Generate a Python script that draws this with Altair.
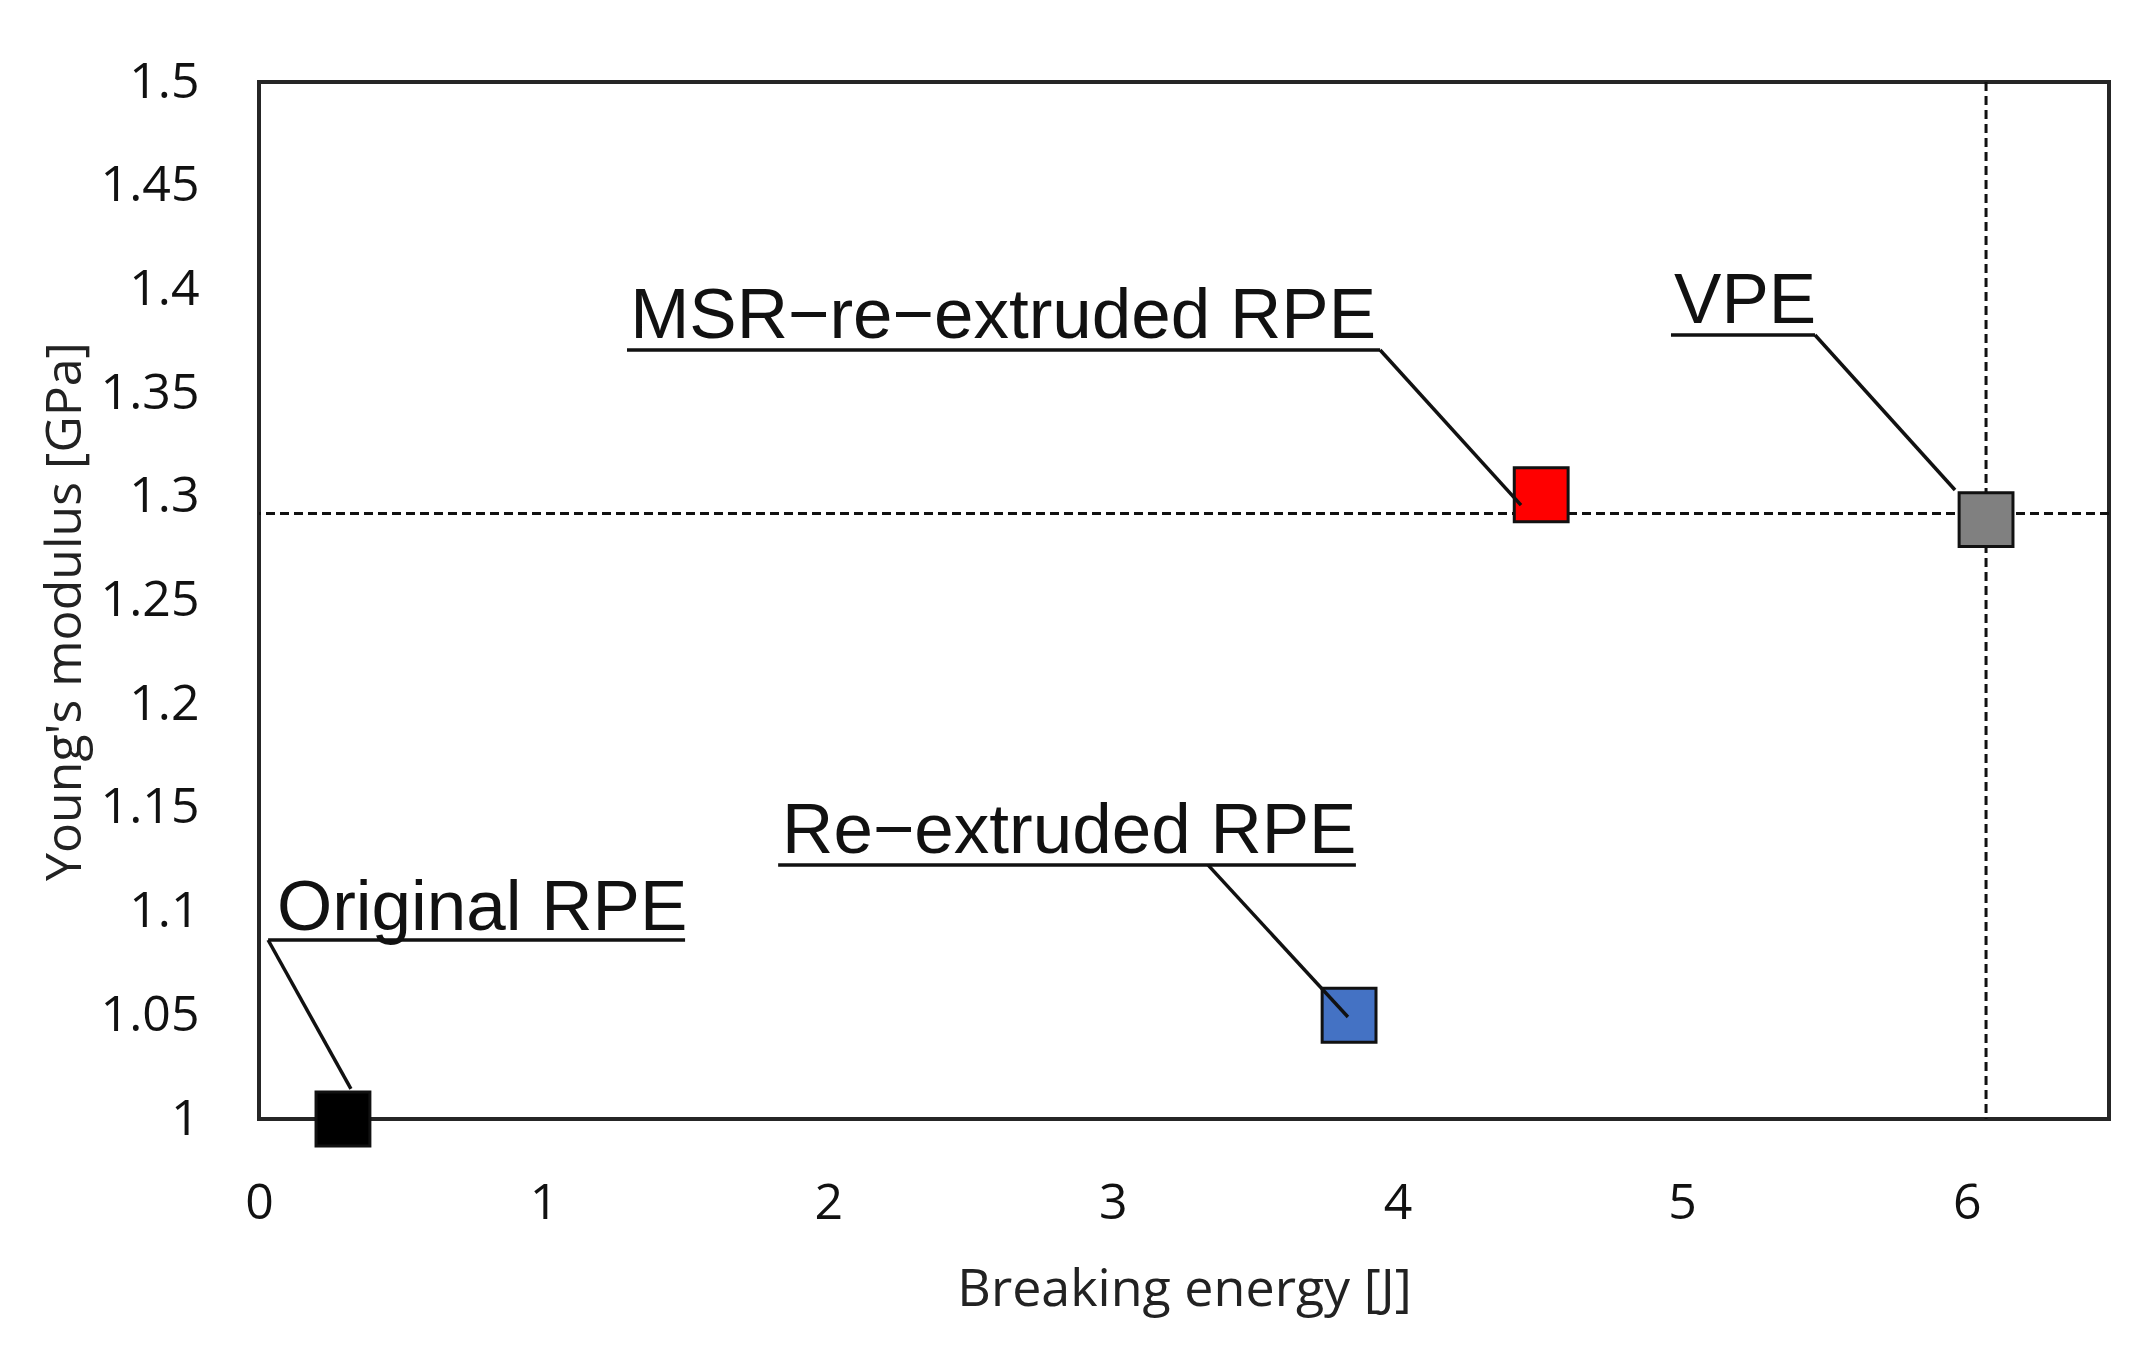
import altair as alt
import pandas as pd

# ---- data ----
names = ["Original RPE", "Re\u2212extruded RPE", "MSR\u2212re\u2212extruded RPE", "VPE"]
energy = [0.295, 3.83, 4.505, 6.068]          # Breaking energy [J]
modulus = [1.000, 1.050, 1.301, 1.289]        # Young's modulus [GPa]
colors = ["#000000", "#4472C4", "#FF0000", "#808080"]

# annotation anchors (data units)
label_x = [0.063, 1.838, 1.304, 4.972]
label_y = [1.0911, 1.1283, 1.3766, 1.3838]
underline_x0 = [0.032, 1.824, 1.293, 4.961]
underline_x1 = [1.497, 3.854, 3.939, 5.467]
underline_y = [1.0863, 1.1225, 1.3708, 1.378]
leader_x0 = [0.032, 3.334, 3.939, 5.467]
leader_x1 = [0.323, 3.826, 4.434, 5.959]
leader_y1 = [1.0145, 1.0492, 1.296, 1.3033]

ref_hline = [1.292]
ref_vline = [6.068]

x_ticks = [0, 1, 2, 3, 4, 5, 6]
y_ticks = [1.0, 1.05, 1.1, 1.15, 1.2, 1.25, 1.3, 1.35, 1.4, 1.45, 1.5]

# ---- tables ----
pts = pd.DataFrame({"name": names, "energy": energy, "modulus": modulus})
labels = pd.DataFrame({"name": names, "x": label_x, "y": label_y})
segs = pd.DataFrame({
    "x": underline_x0 + leader_x0,
    "x2": underline_x1 + leader_x1,
    "y": underline_y + underline_y,
    "y2": underline_y + leader_y1,
})
hl = pd.DataFrame({"v": ref_hline})
vl = pd.DataFrame({"v": ref_vline})

AXIS_FONT = "Open Sans"
xscale = alt.Scale(domain=[0, 6.5], nice=False, zero=False)
yscale = alt.Scale(domain=[1.0, 1.5], nice=False, zero=False)

base_x = alt.X(
    "energy:Q", scale=xscale,
    axis=alt.Axis(
        title="Breaking energy [J]", values=x_ticks, format="~g",
        grid=False, ticks=False, tickSize=0, domain=False, labelFlush=False,
        labelFont=AXIS_FONT, labelFontSize=50, labelColor="#111111",
        labelBaseline="alphabetic", labelPadding=99,
        titleFont=AXIS_FONT, titleFontSize=52, titleFontWeight="normal",
        titleColor="#222222", titleBaseline="alphabetic", titleY=186,
    ),
)
base_y = alt.Y(
    "modulus:Q", scale=yscale,
    axis=alt.Axis(
        title="Young's modulus [GPa]", values=y_ticks, format="~g",
        grid=False, ticks=False, tickSize=0, domain=False, labelFlush=False,
        labelFont=AXIS_FONT, labelFontSize=50, labelColor="#111111",
        labelPadding=60,
        titleFont=AXIS_FONT, titleFontSize=50, titleFontWeight="normal",
        titleColor="#222222", titleBaseline="alphabetic",
        titleX=-179, titleY=529,
    ),
)

points = alt.Chart(pts).mark_square(
    size=2900, filled=True, opacity=1, stroke="#111111", strokeWidth=3
).encode(
    x=base_x, y=base_y,
    color=alt.Color("name:N", scale=alt.Scale(domain=names, range=colors), legend=None),
)

hrule = alt.Chart(hl).mark_rule(
    color="#111111", strokeWidth=3, strokeDash=[9, 5]
).encode(y=alt.Y("v:Q", scale=yscale))

vrule = alt.Chart(vl).mark_rule(
    color="#111111", strokeWidth=3, strokeDash=[9, 5]
).encode(x=alt.X("v:Q", scale=xscale))

lines = alt.Chart(segs).mark_rule(color="#111111", strokeWidth=3.5).encode(
    x=alt.X("x:Q", scale=xscale), x2="x2:Q",
    y=alt.Y("y:Q", scale=yscale), y2="y2:Q",
)

texts = alt.Chart(labels).mark_text(
    align="left", baseline="alphabetic", font="Liberation Sans",
    fontSize=71, color="#111111"
).encode(
    x=alt.X("x:Q", scale=xscale),
    y=alt.Y("y:Q", scale=yscale),
    text="name:N",
)

chart = alt.layer(hrule, vrule, points, lines, texts).properties(
    width=1850, height=1037,
    autosize=alt.AutoSizeParams(type="none"),
    padding={"left": 251, "top": 74, "right": 16, "bottom": 200},
    background="white",
).configure_view(stroke="#262626", strokeWidth=4)

chart.save("out.html", embed_options={"renderer": "svg", "actions": False})
